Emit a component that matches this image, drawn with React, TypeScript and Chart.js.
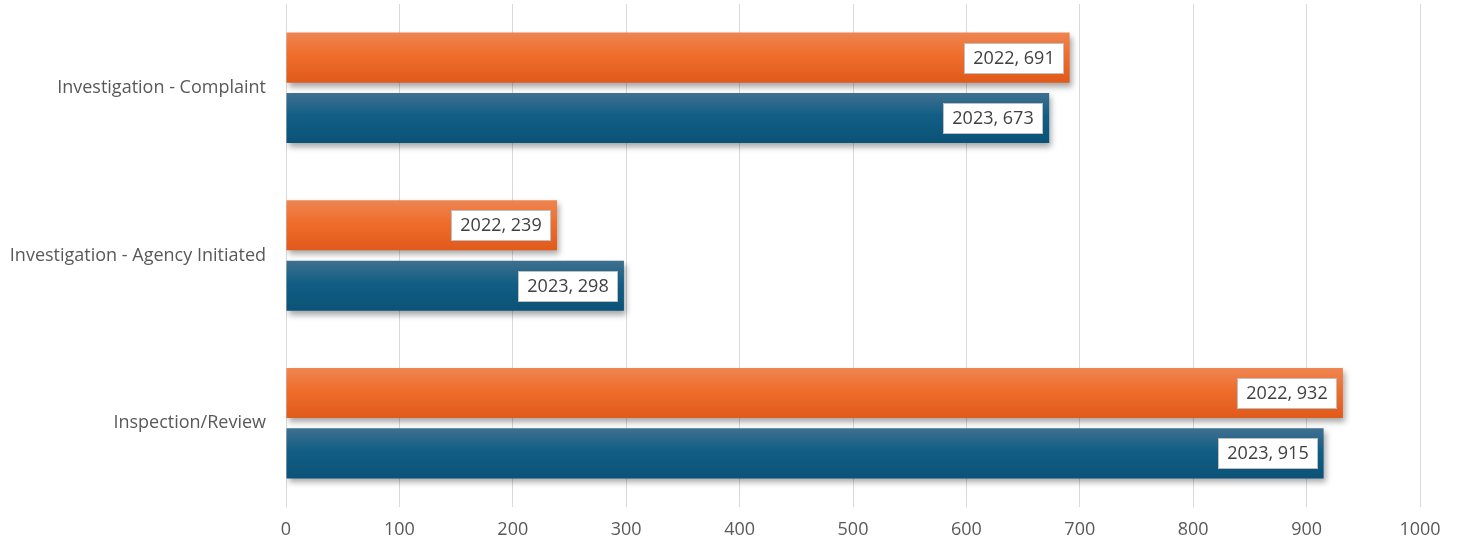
import React, { useEffect, useRef } from "react";
import { Chart, registerables } from "chart.js";

Chart.register(...registerables);

const categories = ["Investigation - Complaint", "Investigation - Agency Initiated", "Inspection/Review"];
const seriesNames = ["2022", "2023"];
const values2022 = [691, 239, 932];
const values2023 = [673, 298, 915];
const xTicks = [0, 100, 200, 300, 400, 500, 600, 700, 800, 900, 1000];

const FONT = "'Open Sans', 'Liberation Sans', sans-serif";

const gradStops: Record<string, string[]> = {
  "2022": ["#ee8552", "#ef6d2b", "#e05a1b"],
  "2023": ["#40708f", "#115e85", "#0b5277"],
};

const barStylePlugin = {
  id: "barStyle",
  beforeDatasetsDraw(chart: any) {
    const c = chart.ctx;
    chart.data.datasets.forEach((ds: any, di: number) => {
      const meta = chart.getDatasetMeta(di);
      const stops = gradStops[ds.label];
      meta.data.forEach((el: any) => {
        const top = el.y - el.height / 2;
        const bot = el.y + el.height / 2;
        const g = c.createLinearGradient(0, top, 0, bot);
        g.addColorStop(0, stops[0]);
        g.addColorStop(0.45, stops[1]);
        g.addColorStop(1, stops[2]);
        el.options = Object.assign({}, el.options, { backgroundColor: g });
      });
    });
    c.save();
    c.shadowColor = "rgba(0,0,0,0.35)";
    c.shadowBlur = 6;
    c.shadowOffsetX = 2;
    c.shadowOffsetY = 4;
  },
  afterDatasetsDraw(chart: any) {
    const c = chart.ctx;
    c.restore();
    c.save();
    c.font = `18px ${FONT}`;
    c.textBaseline = "middle";
    c.textAlign = "center";
    chart.data.datasets.forEach((ds: any, di: number) => {
      const meta = chart.getDatasetMeta(di);
      meta.data.forEach((el: any, i: number) => {
        const text = `${ds.label}, ${ds.data[i]}`;
        const w = Math.round(c.measureText(text).width + 18);
        const h = 30;
        const right = Math.round(el.x - 7);
        const left = right - w;
        const top = Math.round(el.y - h / 2);
        c.fillStyle = "#ffffff";
        c.fillRect(left, top, w, h);
        c.strokeStyle = "#bfbfbf";
        c.lineWidth = 1;
        c.strokeRect(left + 0.5, top + 0.5, w, h);
        c.fillStyle = "#404040";
        c.fillText(text, left + w / 2 + 0.5, el.y + 1);
      });
    });
    c.restore();
  },
};

export default function App() {
  const ref = useRef<HTMLCanvasElement | null>(null);
  useEffect(() => {
    document.body.style.margin = "0";
    const chart = new Chart(ref.current as HTMLCanvasElement, {
      type: "bar",
      data: {
        labels: categories,
        datasets: [
          { label: seriesNames[0], data: values2022, backgroundColor: "#ef6d2b", borderWidth: 0, categoryPercentage: 0.72, barPercentage: 0.83 },
          { label: seriesNames[1], data: values2023, backgroundColor: "#115e85", borderWidth: 0, categoryPercentage: 0.72, barPercentage: 0.83 },
        ],
      },
      options: {
        indexAxis: "y",
        animation: false,
        responsive: false,
        maintainAspectRatio: false,
        layout: { padding: { top: 4, right: 44, left: 0, bottom: 0 } },
        plugins: { legend: { display: false }, tooltip: { enabled: false } },
        scales: {
          x: {
            min: 0,
            max: 1000,
            afterBuildTicks: (axis: any) => {
              axis.ticks = xTicks.map((v) => ({ value: v }));
            },
            grid: { color: "#d9d9d9", lineWidth: 1, drawTicks: false },
            border: { display: false },
            ticks: {
              color: "#595959",
              font: { size: 18, family: FONT },
              padding: 12,
              callback: (v: any) => String(v),
            },
            afterFit: (axis: any) => {
              axis.height = 49;
              axis.paddingRight = 0;
              axis.paddingLeft = 0;
            },
          },
          y: {
            grid: { display: false },
            border: { display: false },
            ticks: { color: "#595959", font: { size: 18, family: FONT }, padding: 12 },
            afterFit: (axis: any) => {
              axis.width = 286;
              axis.paddingTop = 0;
              axis.paddingBottom = 0;
            },
          },
        },
      },
      plugins: [barStylePlugin],
    } as any);
    return () => chart.destroy();
  }, []);
  return (
    <div style={{ width: 1464, height: 556 }}>
      <canvas ref={ref} width={1464} height={556} />
    </div>
  );
}
